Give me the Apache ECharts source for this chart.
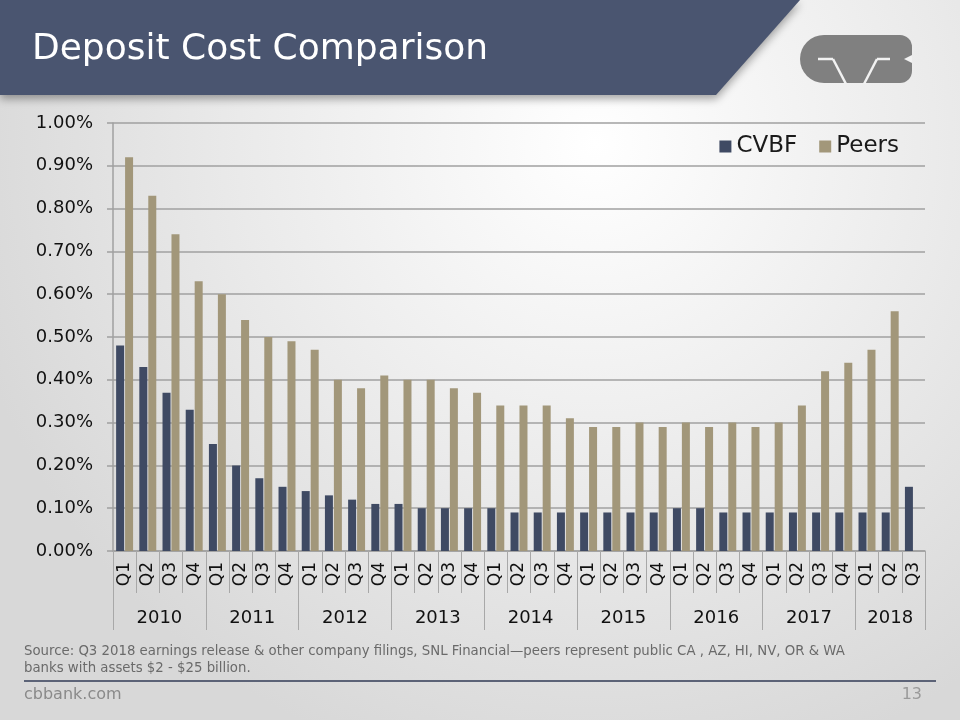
<!DOCTYPE html>
<html>
<head>
<meta charset="utf-8">
<script src="https://cdn.jsdelivr.net/npm/echarts@6/dist/echarts.min.js"></script>
<style>
html,body{margin:0;padding:0;background:#fff;}
#c{width:960px;height:720px;}
</style>
</head>
<body>
<div id="c"></div>
<script>
const quarters = ['Q1','Q2','Q3','Q4','Q1','Q2','Q3','Q4','Q1','Q2','Q3','Q4','Q1','Q2','Q3','Q4','Q1','Q2','Q3','Q4','Q1','Q2','Q3','Q4','Q1','Q2','Q3','Q4','Q1','Q2','Q3','Q4','Q1','Q2','Q3'];
const years = ['2010','2011','2012','2013','2014','2015','2016','2017','2018'];
const yearBoundaries = [0,4,8,12,16,20,24,28,32,35];
const yearCenters = [2,6,10,14,18,22,26,30,33.5];
const cvbf = [0.48,0.43,0.37,0.33, 0.25,0.20,0.17,0.15, 0.14,0.13,0.12,0.11, 0.11,0.10,0.10,0.10, 0.10,0.09,0.09,0.09, 0.09,0.09,0.09,0.09, 0.10,0.10,0.09,0.09, 0.09,0.09,0.09,0.09, 0.09,0.09,0.15];
const peers = [0.92,0.83,0.74,0.63, 0.60,0.54,0.50,0.49, 0.47,0.40,0.38,0.41, 0.40,0.40,0.38,0.37, 0.34,0.34,0.34,0.31, 0.29,0.29,0.30,0.29, 0.30,0.29,0.30,0.29, 0.30,0.34,0.42,0.44, 0.47,0.56,null];

const FONT = '"DejaVu Sans", sans-serif';
const chart = echarts.init(document.getElementById('c'), null, {renderer:'canvas'});

const cut = {stroke:'#f2f2f2', lineWidth:2.5};
const option = {
  animation:false,
  backgroundColor:{
    type:'radial', x:0.62, y:0.2, r:0.9,
    colorStops:[{offset:0,color:'#ffffff'},{offset:0.55,color:'#eaeaea'},{offset:1,color:'#d8d8d8'}]
  },
  textStyle:{fontFamily:FONT},
  graphic:[
    {type:'polygon', z:10, shape:{points:[[0,0],[800,0],[716,95],[0,95]]},
     style:{fill:'#4a5570', shadowBlur:8, shadowColor:'rgba(0,0,0,0.35)', shadowOffsetY:4}},
    {type:'text', z:11, left:32, top:32, style:{text:'Deposit Cost Comparison', fill:'#ffffff', font:'36px '+FONT}},
    // logo
    {type:'rect', z:11, shape:{x:800,y:35,width:112,height:48,r:[24,12,12,24]}, style:{fill:'#808080'}},
    {type:'polygon', z:12, shape:{points:[[912,55],[904,59],[912,63]]}, style:{fill:'#f2f2f2'}},
    {type:'line', z:12, shape:{x1:818,y1:59,x2:833,y2:59}, style:cut},
    {type:'line', z:12, shape:{x1:833,y1:59,x2:846,y2:84}, style:cut},
    {type:'line', z:12, shape:{x1:864,y1:84,x2:877,y2:59}, style:cut},
    {type:'line', z:12, shape:{x1:877,y1:59,x2:890,y2:59}, style:cut},
    {type:'text', left:24, top:643, style:{text:'Source: Q3 2018 earnings release & other company filings, SNL Financial\u2014peers represent public CA , AZ, HI, NV, OR & WA\nbanks with assets $2 - $25 billion.', fill:'#6a6a6a', font:'13.3px '+FONT, lineHeight:17}},
    {type:'line', shape:{x1:24,y1:681,x2:936,y2:681}, style:{stroke:'#5c6377', lineWidth:2}},
    {type:'text', left:24, top:687, style:{text:'cbbank.com', fill:'#8a8a8a', font:'16px '+FONT}},
    {type:'text', right:38, top:687, style:{text:'13', fill:'#9a9a9a', font:'16px '+FONT}}
  ],
  legend:{
    data:['CVBF','Peers'], right:56, top:130, itemWidth:12, itemHeight:12, itemGap:22, icon:'rect',
    textStyle:{fontSize:23, color:'#1a1a1a', fontFamily:FONT}
  },
  grid:{left:113, right:35, top:123, bottom:169, containLabel:false},
  xAxis:[
    {type:'category', data:quarters, position:'bottom', boundaryGap:true,
     axisLine:{lineStyle:{color:'#a0a0a0', width:1.5}},
     axisTick:{show:true, interval:0, length:42, lineStyle:{color:'#a8a8a8'}},
     axisLabel:{interval:0, rotate:90, margin:11, fontSize:17, color:'#111', fontFamily:FONT},
     splitLine:{show:false}},
    {type:'value', min:0, max:35, position:'bottom',
     axisLine:{show:false},
     axisTick:{show:true, customValues:yearBoundaries, length:79, lineStyle:{color:'#a8a8a8'}},
     axisLabel:{customValues:yearCenters, margin:58, fontSize:18, color:'#111', fontFamily:FONT,
       formatter:function(v){return years[Math.floor(v/4)];}},
     splitLine:{show:false}}
  ],
  yAxis:{type:'value', min:0, max:1, interval:0.1,
    axisLine:{show:true, lineStyle:{color:'#a0a0a0', width:1.5}},
    axisTick:{show:true, length:6, lineStyle:{color:'#a0a0a0', width:1.5}},
    axisLabel:{margin:20, fontSize:18, color:'#111', fontFamily:FONT, formatter:function(v){return v.toFixed(2)+'%';}},
    splitLine:{lineStyle:{color:'#a0a0a0', width:1.5}}
  },
  series:[
    {name:'CVBF', type:'bar', xAxisIndex:0, data:cvbf, barWidth:8, barGap:'12%', itemStyle:{color:'#3f4a63'}},
    {name:'Peers', type:'bar', xAxisIndex:0, data:peers, barWidth:8, itemStyle:{color:'#a2977a'}}
  ]
};
chart.setOption(option);
</script>
</body>
</html>
